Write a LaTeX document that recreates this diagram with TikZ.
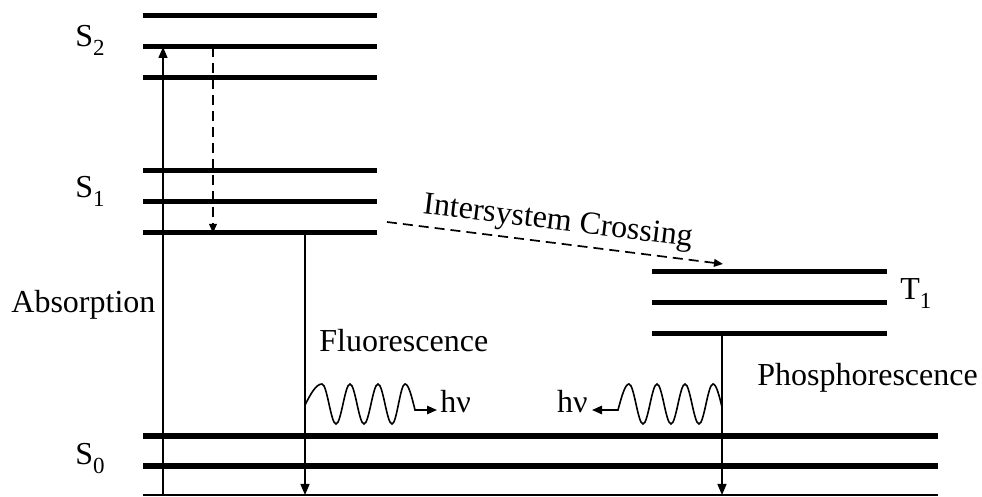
\documentclass[tikz,border=0pt]{standalone}
\usepackage{fontspec}
\setmainfont{Liberation Serif}
\usetikzlibrary{arrows.meta}
\newcommand{\sublbl}[2]{#1\raisebox{-0.55ex}{\fontsize{11.5}{13}\selectfont #2}}
\begin{document}
\begin{tikzpicture}[x=0.5pt,y=-0.5pt,
  level/.style={line width=2.5pt},
  ground/.style={line width=2.8pt},
  trans/.style={line width=0.75pt,-{Triangle[length=5.5pt,width=4.5pt]}},
  dtrans/.style={line width=0.85pt,dash pattern=on 5pt off 3pt,-{Triangle[length=4.5pt,width=3.8pt]}},
  wave/.style={line width=0.8pt,-{Triangle[length=5pt,width=4.2pt]}},
  lbl/.style={font=\fontsize{16}{19}\selectfont,inner sep=0pt}]
\useasboundingbox (0,0) rectangle (982,497);
% level end points
\foreach \n/\y in {a/16,b/47,c/78}{\coordinate (s2\n l) at (143,\y); \coordinate (s2\n r) at (377,\y);}
\foreach \n/\y in {a/171,b/202,c/233}{\coordinate (s1\n l) at (143,\y); \coordinate (s1\n r) at (377,\y);}
\foreach \n/\y in {a/272,b/303,c/334}{\coordinate (t1\n l) at (652,\y); \coordinate (t1\n r) at (887,\y);}
\foreach \n/\y in {a/436,b/466}{\coordinate (s0\n l) at (143,\y); \coordinate (s0\n r) at (938,\y);}
\coordinate (basel) at (143,495); \coordinate (baser) at (938,495);
% levels
\foreach \n in {a,b,c}{
  \draw[level] (s2\n l) -- (s2\n r);
  \draw[level] (s1\n l) -- (s1\n r);
  \draw[level] (t1\n l) -- (t1\n r);}
\foreach \n in {a,b}{\draw[ground] (s0\n l) -- (s0\n r);}
\draw[line width=1pt] (basel) -- (baser);
% transition points
\coordinate (absB) at (163,495); \coordinate (absT) at (163,47);
\coordinate (vrT) at (213,47); \coordinate (vrB) at (213,233);
\coordinate (flT) at (305,233); \coordinate (flB) at (305,495);
\coordinate (phT) at (722,334); \coordinate (phB) at (722,495);
\coordinate (iscA) at (387,222); \coordinate (iscB) at (723,264);
\draw[trans] (absB) -- (absT);
\draw[dtrans] (vrT) -- (vrB);
\draw[trans] (flT) -- (flB);
\draw[trans] (phT) -- (phB);
\draw[dtrans] (iscA) -- (iscB);
% waves
\coordinate (fw0) at (305,405); \coordinate (fwE) at (437,410);
\draw[wave] (fw0) sin (322,384) cos (329,404) sin (336,424) cos (343,404)
  sin (350,384) cos (357,404) sin (364,424) cos (371,404)
  sin (378,384) cos (385,404) sin (392,424) cos (398.5,404)
  sin (405,384) cos (415,410) -- (fwE);
\coordinate (pw0) at (722,407); \coordinate (pwE) at (592,410);
\draw[wave] (pw0) sin (713,384) cos (706,404) sin (699,424) cos (692,404)
  sin (685,384) cos (678,404) sin (671,424) cos (664,404)
  sin (657,384) cos (650,404) sin (643,424) cos (636,404)
  sin (629,384) cos (618,410) -- (pwE);
% labels
\node[lbl,anchor=base west] (lS2) at (75,47) {\sublbl{S}{2}};
\node[lbl,anchor=base west] (lS1) at (75,198) {\sublbl{S}{1}};
\node[lbl,anchor=base west] (lS0) at (75,465) {\sublbl{S}{0}};
\node[lbl,anchor=base west] (lT1) at (900,300) {\sublbl{T}{1}};
\node[lbl,anchor=base west] (lAbs) at (11,313) {Absorption};
\node[lbl,anchor=base west] (lFl) at (319,352) {Fluorescence};
\node[lbl,anchor=base west] (lPh) at (757,386) {Phosphorescence};
\node[lbl,anchor=base west] (hv1) at (440,413) {hν};
\node[lbl,anchor=base east] (hv2) at (588,413) {hν};
\node[lbl,anchor=base,rotate=-7] (lISC) at (557,230) {Intersystem Crossing};
\end{tikzpicture}
\end{document}
